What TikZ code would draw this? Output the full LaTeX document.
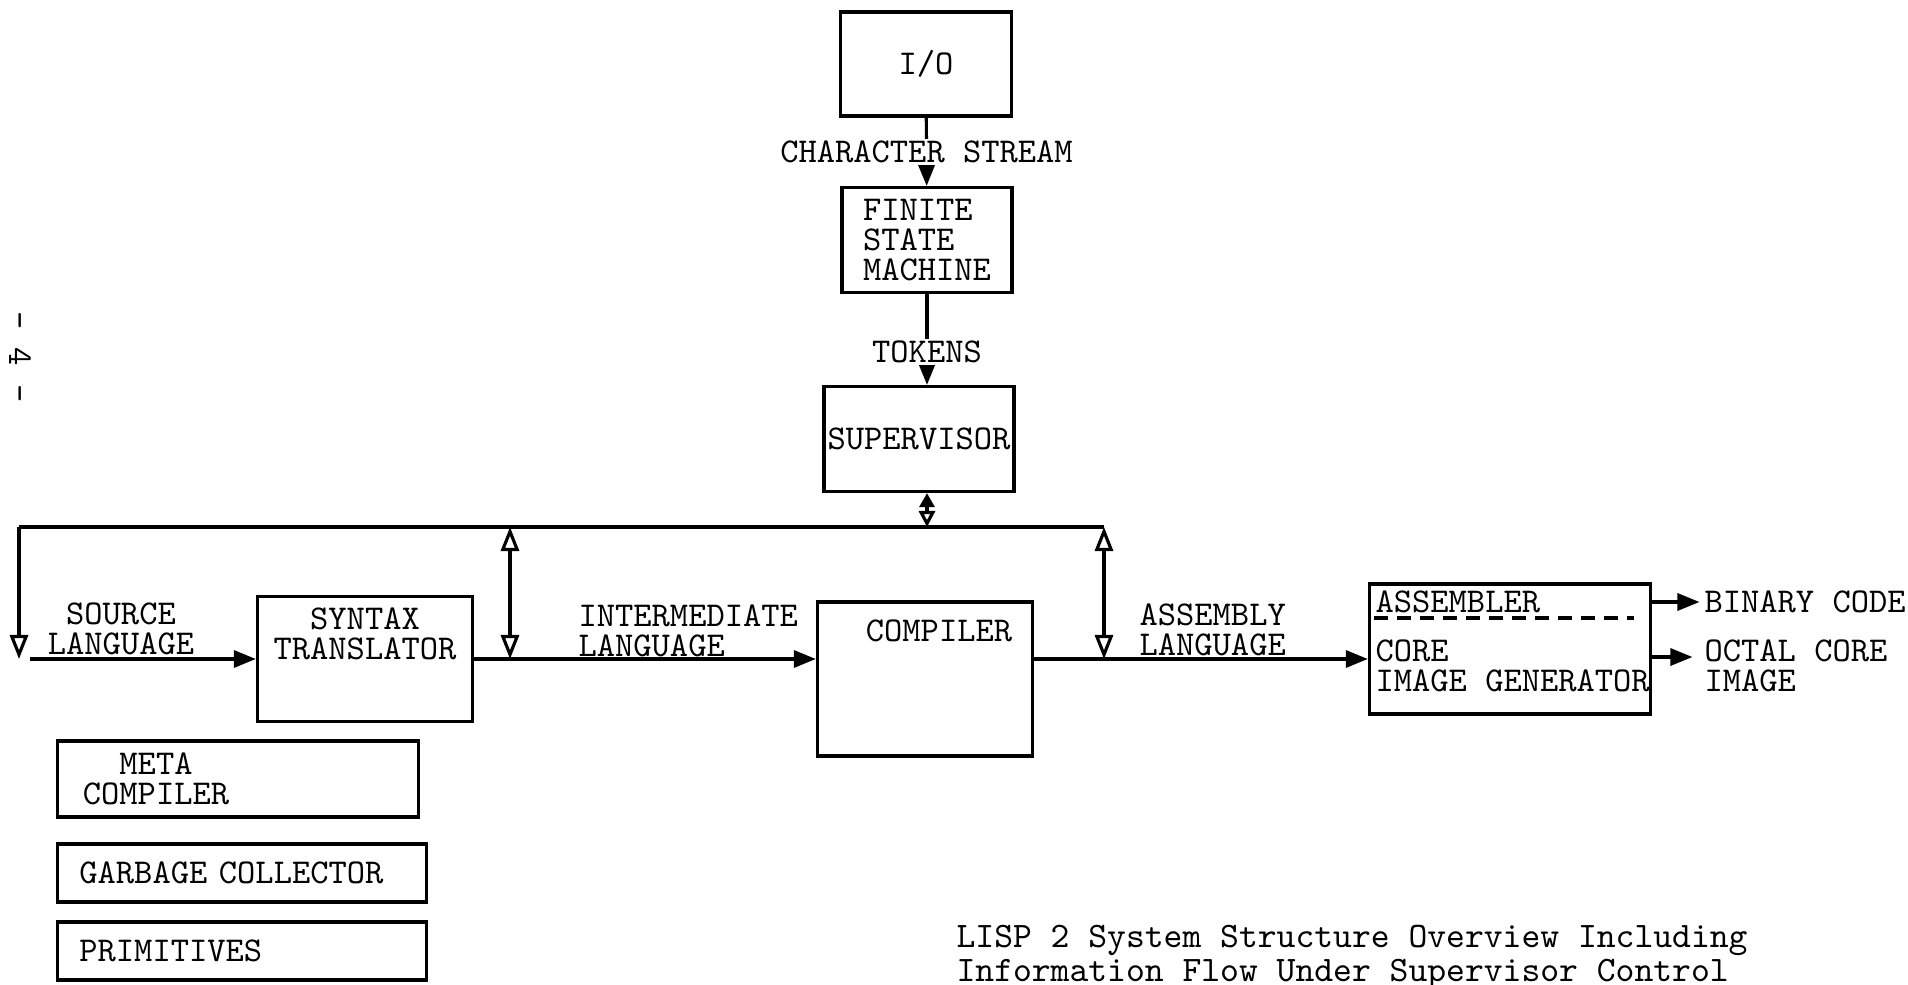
\documentclass[tikz,border=0pt]{standalone}
\usepackage{fontspec}
\usetikzlibrary{arrows.meta, positioning}
\tikzset{
  every picture/.style={font={\ttfamily\fontsize{9.9}{8.6}\selectfont}, line width=0.9pt},
  box/.style={draw, inner sep=0pt},
  arrow/.style={-{Triangle[length=2.2mm, width=1.7mm]}},
  busarrow/.style={{Triangle[open, length=2.4mm, width=1.8mm]}-{Triangle[open, length=2.4mm, width=1.8mm]}},
  downarrow/.style={-{Triangle[open, length=2.4mm, width=1.8mm]}},
  suparrow/.style={{Triangle[length=1.4mm, width=1.5mm]}-{Triangle[open, length=1.6mm, width=1.6mm]}},
  lbl/.style={inner sep=0pt, align=left},
  gap/.style={fill=white, inner xsep=2pt, inner ysep=0.5pt},
}

\begin{document}
\begin{tikzpicture}[x=0.01cm, y=-0.01cm]
  \useasboundingbox (0,0) rectangle (1908,985);
  % input chain
  \node[box, minimum width=1.71cm, minimum height=1.04cm] (io) at (926,64) {I/O};
  \node[box, minimum width=1.70cm, minimum height=1.05cm, align=left] (fsm) at (927,240) {FINITE\\STATE\\MACHINE};
  \node[box, minimum width=1.90cm, minimum height=1.05cm] (sup) at (919,439) {SUPERVISOR};
  \draw[arrow] (io) -- node[gap] (cstxt) {CHARACTER STREAM} (fsm);
  \draw[arrow] (fsm) -- node[gap, pos=0.64] (toktxt) {TOKENS} (sup.north -| fsm.south);

  % translators on the bus
  \node[box, minimum width=2.15cm, minimum height=1.25cm] (syn) at (365,659) {};
  \node[lbl, align=center, below=0.11cm of syn.north] (syntxt) {SYNTAX\\TRANSLATOR};
  \node[box, minimum width=2.15cm, minimum height=1.54cm] (comp) at (925,679) {};
  \node[lbl, below=0.18cm of comp.north, xshift=0.14cm] (comptxt) {COMPILER};
  \node[box, minimum width=2.81cm, minimum height=1.30cm] (asm) at (1510,649) {};
  \node[lbl, anchor=west] (asmtxt) at (1374,602) {ASSEMBLER};
  \node[lbl, anchor=north west] (coretxt) at (1374,638) {CORE\\IMAGE GENERATOR};
  \draw[dash pattern=on 1.4mm off 0.9mm] (1374,618) -- (1634,618);

  % bus
  \coordinate (busL) at (19,527);
  \coordinate (busR) at (1104,527);
  \coordinate (tap) at (510,527);
  \coordinate (srcL) at (busL |- syn.west);
  \draw (busL) -- (busR);
  \draw[suparrow] (sup.south -| fsm.south) -- (busL -| fsm.south);
  \draw[downarrow] (busL) -- (srcL);
  \draw[busarrow] (tap) -- (tap |- syn.east);
  \draw[busarrow] (busR) -- (busR |- syn.east);
  \draw[arrow] ([xshift=0.11cm]srcL) -- (syn.west);
  \draw[arrow] (syn.east) -- (comp.west |- syn.east);
  \draw[arrow] (comp.east |- syn.east) -- (asm.west |- syn.east);
  \node[lbl, align=center] (srctxt) at (121,629) {SOURCE\\LANGUAGE};
  \node[lbl, anchor=north west] (imtxt) at (577,603) {INTERMEDIATE\\LANGUAGE};
  \node[lbl, anchor=north west] (astxt) at (1138,602) {ASSEMBLY\\LANGUAGE};

  % outputs
  \node[lbl, anchor=west] (bintxt) at (1703,602) {BINARY CODE};
  \node[lbl, anchor=north west] (octtxt) at (1703,638) {OCTAL CORE\\IMAGE};
  \coordinate (octin) at ([yshift=-0.19cm]octtxt.north west);
  \draw[arrow] (asm.east |- bintxt.west) -- ([xshift=-1pt]bintxt.west);
  \draw[arrow] (asm.east |- octin) -- ([xshift=-3pt]octin);

  % support routines
  \node[box, minimum width=3.60cm, minimum height=0.76cm, text width=3.10cm] (meta) at (238,779) {\hphantom{MM}META\\COMPILER};
  \node[box, minimum width=3.69cm, minimum height=0.58cm, text width=3.25cm] (gc) at (242,873) {GARBAGE COLLECTOR};
  \node[box, minimum width=3.69cm, minimum height=0.58cm, text width=3.25cm] (prim) at (242,951) {PRIMITIVES};

  \node[rotate=-90] (pageno) at (20,357) {- 4 -};
  \node[lbl, anchor=north west, font={\ttfamily\fontsize{10.2}{8.6}\selectfont}] (caption) at (955,924)
    {LISP 2 System Structure Overview Including\\Information Flow Under Supervisor Control};
\end{tikzpicture}
\end{document}
